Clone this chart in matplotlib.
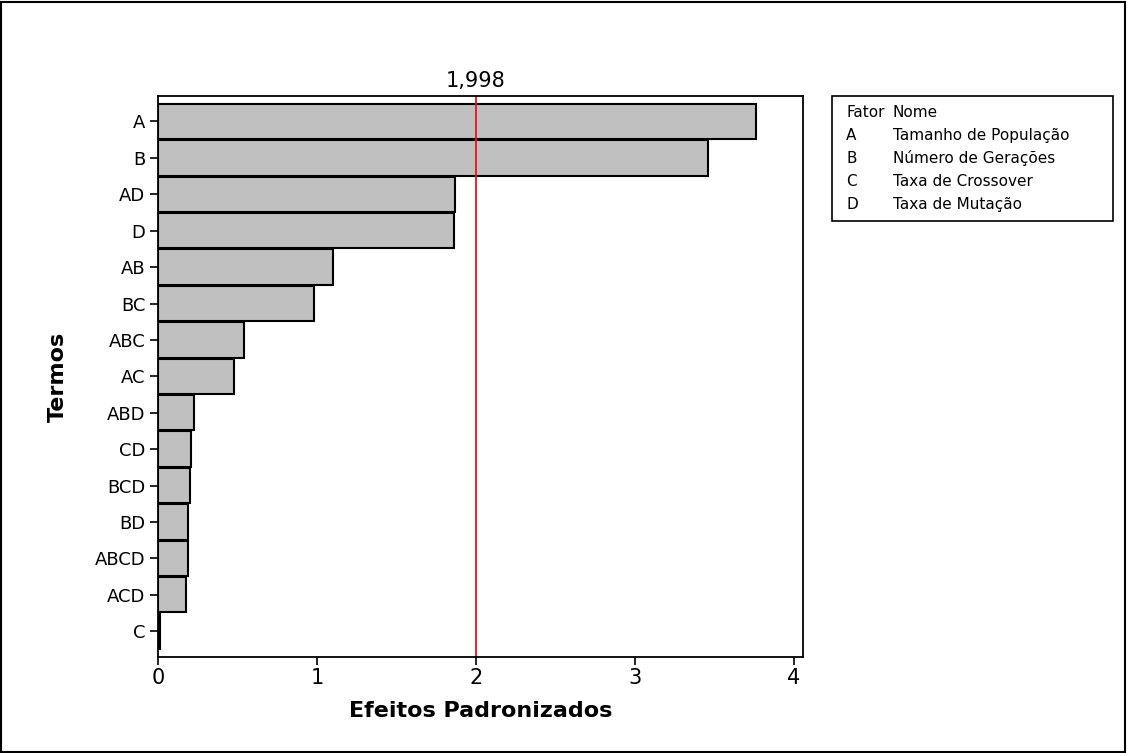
import matplotlib.pyplot as plt
from matplotlib.patches import Rectangle

termos = ["A", "B", "AD", "D", "AB", "BC", "ABC", "AC", "ABD", "CD",
          "BCD", "BD", "ABCD", "ACD", "C"]
efeitos = [3.76, 3.46, 1.87, 1.86, 1.10, 0.98, 0.54, 0.48, 0.225, 0.21,
           0.20, 0.187, 0.187, 0.174, 0.013]
limite = 1.998
fatores = ["A", "B", "C", "D"]
nomes = ["Tamanho de População", "Número de Gerações",
         "Taxa de Crossover", "Taxa de Mutação"]

W, H = 1127, 753
fig = plt.figure(figsize=(W / 100, H / 100), dpi=100)
ax = fig.add_axes([158 / W, 1 - 657 / H, 645 / W, 561 / H])

pos = list(range(len(termos)))[::-1]
ax.barh(pos, efeitos, height=0.97, color="#c0c0c0", edgecolor="black", linewidth=1.5)
ax.axvline(limite, color="#e8141e", linewidth=1.3)
ax.annotate("1,998", xy=(limite, 1), xycoords=("data", "axes fraction"),
            xytext=(0, 6.5), textcoords="offset points",
            ha="center", va="baseline", fontsize=15)

ax.set_yticks(pos)
ax.set_yticklabels(termos, fontsize=13)
ax.set_ylim(-0.71, 14.7)
ax.set_xlim(0, 4.057)
ax.set_xticks([0, 1, 2, 3, 4])
ax.tick_params(axis="x", labelsize=15, length=6, width=1.2, pad=2)
ax.tick_params(axis="y", length=6, width=1.2, pad=3)
for s in ax.spines.values():
    s.set_linewidth(1.3)

ax.set_xlabel("Efeitos Padronizados", fontsize=16, fontweight="bold")
ax.set_ylabel("Termos", fontsize=16, fontweight="bold")
ax.xaxis.set_label_coords(0.5, -0.078)
ax.yaxis.set_label_coords(-0.139, 0.5)

# legend table box
fig.patches.append(Rectangle((832 / W, 1 - 221 / H), 281 / W, 125.5 / H,
                             transform=fig.transFigure, fill=False,
                             edgecolor="black", linewidth=1.2))
fs = 11
y0 = 117
dy = 23
fig.text(846 / W, 1 - y0 / H, "Fator", fontsize=fs, va="baseline")
fig.text(893 / W, 1 - y0 / H, "Nome", fontsize=fs, va="baseline")
for i, (f, n) in enumerate(zip(fatores, nomes)):
    yy = 1 - (y0 + (i + 1) * dy) / H
    fig.text(846 / W, yy, f, fontsize=fs, va="baseline")
    fig.text(893 / W, yy, n, fontsize=fs, va="baseline")

# outer frame
fig.patches.append(Rectangle((0.001, 0.001), 0.997, 0.997, transform=fig.transFigure,
                             fill=False, edgecolor="black", linewidth=1.5))

fig.savefig("out.png", dpi=100)
